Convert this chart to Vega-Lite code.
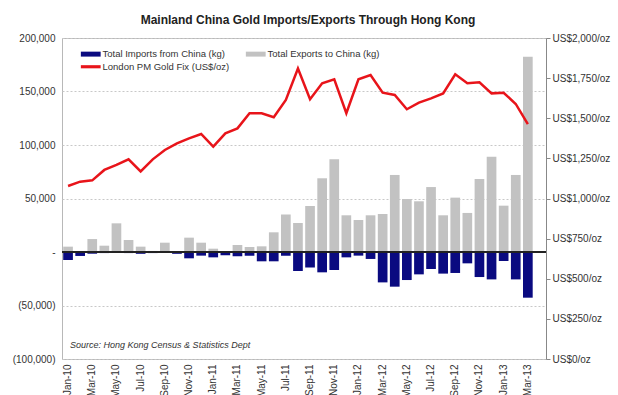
{
  "$schema": "https://vega.github.io/schema/vega-lite/v6.json",
  "width": 484,
  "height": 321,
  "autosize": {"type": "none"},
  "padding": {"left": 62, "top": 38, "right": 72, "bottom": 36},
  "background": "white",
  "title": {"text": "Mainland China Gold Imports/Exports Through Hong Kong", "font": "Liberation Sans", "fontSize": 12, "fontWeight": "bold", "color": "#222222", "anchor": "middle", "offset": 6, "dx": 4},
  "config": {
    "font": "Liberation Sans",
    "view": {"stroke": "#b8b8b8", "strokeWidth": 1}
  },
  "data": {"values": [
    {"month": "Jan-10", "exports": 5000, "imports": -7500, "gold": 1078},
    {"month": "Feb-10", "exports": 0, "imports": -3700, "gold": 1105},
    {"month": "Mar-10", "exports": 12100, "imports": -1600, "gold": 1113},
    {"month": "Apr-10", "exports": 5900, "imports": -1000, "gold": 1178},
    {"month": "May-10", "exports": 26800, "imports": -700, "gold": 1209},
    {"month": "Jun-10", "exports": 11200, "imports": -1000, "gold": 1244},
    {"month": "Jul-10", "exports": 5000, "imports": -1700, "gold": 1169},
    {"month": "Aug-10", "exports": 1000, "imports": -1000, "gold": 1244},
    {"month": "Sep-10", "exports": 8700, "imports": -700, "gold": 1302},
    {"month": "Oct-10", "exports": 500, "imports": -1700, "gold": 1344},
    {"month": "Nov-10", "exports": 13400, "imports": -5900, "gold": 1375},
    {"month": "Dec-10", "exports": 8700, "imports": -3400, "gold": 1402},
    {"month": "Jan-11", "exports": 3100, "imports": -5000, "gold": 1323},
    {"month": "Feb-11", "exports": 1000, "imports": -3100, "gold": 1406},
    {"month": "Mar-11", "exports": 6500, "imports": -4000, "gold": 1437},
    {"month": "Apr-11", "exports": 4700, "imports": -3400, "gold": 1531},
    {"month": "May-11", "exports": 5300, "imports": -8700, "gold": 1531},
    {"month": "Jun-11", "exports": 18400, "imports": -8700, "gold": 1506},
    {"month": "Jul-11", "exports": 35000, "imports": -3600, "gold": 1614},
    {"month": "Aug-11", "exports": 27000, "imports": -17700, "gold": 1810},
    {"month": "Sep-11", "exports": 43000, "imports": -14600, "gold": 1618},
    {"month": "Oct-11", "exports": 68900, "imports": -19000, "gold": 1718},
    {"month": "Nov-11", "exports": 86600, "imports": -16800, "gold": 1743},
    {"month": "Dec-11", "exports": 34300, "imports": -5000, "gold": 1531},
    {"month": "Jan-12", "exports": 29900, "imports": -3400, "gold": 1743},
    {"month": "Feb-12", "exports": 34300, "imports": -6500, "gold": 1769},
    {"month": "Mar-12", "exports": 35500, "imports": -28400, "gold": 1659},
    {"month": "Apr-12", "exports": 72000, "imports": -32400, "gold": 1645},
    {"month": "May-12", "exports": 49500, "imports": -26200, "gold": 1556},
    {"month": "Jun-12", "exports": 47400, "imports": -20900, "gold": 1597},
    {"month": "Jul-12", "exports": 60700, "imports": -15900, "gold": 1624},
    {"month": "Aug-12", "exports": 34300, "imports": -20200, "gold": 1655},
    {"month": "Sep-12", "exports": 50800, "imports": -19600, "gold": 1774},
    {"month": "Oct-12", "exports": 36500, "imports": -10600, "gold": 1718},
    {"month": "Nov-12", "exports": 68200, "imports": -23400, "gold": 1724},
    {"month": "Dec-12", "exports": 89100, "imports": -25600, "gold": 1655},
    {"month": "Jan-13", "exports": 43300, "imports": -8400, "gold": 1659},
    {"month": "Feb-13", "exports": 72000, "imports": -25600, "gold": 1589},
    {"month": "Mar-13", "exports": 182500, "imports": -42700, "gold": 1464}
  ]},
  "encoding": {
    "x": {
      "field": "month", "type": "nominal", "sort": null,
      "scale": {
        "domain": ["Jan-10","Feb-10","Mar-10","Apr-10","May-10","Jun-10","Jul-10","Aug-10","Sep-10","Oct-10","Nov-10","Dec-10","Jan-11","Feb-11","Mar-11","Apr-11","May-11","Jun-11","Jul-11","Aug-11","Sep-11","Oct-11","Nov-11","Dec-11","Jan-12","Feb-12","Mar-12","Apr-12","May-12","Jun-12","Jul-12","Aug-12","Sep-12","Oct-12","Nov-12","Dec-12","Jan-13","Feb-13","Mar-13","Apr-13"],
        "paddingInner": 0.2, "paddingOuter": 0.1
      },
      "axis": {
        "title": null,
        "values": ["Jan-10","Mar-10","May-10","Jul-10","Sep-10","Nov-10","Jan-11","Mar-11","May-11","Jul-11","Sep-11","Nov-11","Jan-12","Mar-12","May-12","Jul-12","Sep-12","Nov-12","Jan-13","Mar-13"],
        "labelAngle": -90, "labelFontSize": 10, "labelColor": "#333333",
        "ticks": false, "domain": false, "labelPadding": 5, "grid": false
      }
    }
  },
  "layer": [
    {
      "layer": [
        {
          "mark": {"type": "bar"},
          "encoding": {
            "y": {
              "field": "exports", "type": "quantitative",
              "scale": {"domain": [-100000, 200000], "nice": false, "zero": false},
              "axis": {
                "title": null, "orient": "left",
                "values": [-100000, -50000, 0, 50000, 100000, 150000, 200000],
                "labelExpr": "datum.value == 0 ? '-\u00a0\u00a0\u00a0\u00a0\u00a0\u00a0' : (datum.value < 0 ? '(' + format(-datum.value, ',') + ')' : format(datum.value, ',') + '\u00a0')",
                "labelFontSize": 10, "labelColor": "#333333", "labelPadding": 7,
                "ticks": false, "domain": false,
                "grid": true, "gridColor": "#c8c8c8", "gridDash": [2, 2], "gridWidth": 1
              }
            },
            "color": {
              "datum": "Total Exports to China (kg)", "type": "nominal",
              "scale": {
                "domain": ["Total Imports from China (kg)", "Total Exports to China (kg)", "London PM Gold Fix (US$/oz)"],
                "range": ["#0a0a80", "#c2c2c2", "#e8141a"]
              },
              "legend": {
                "title": null, "orient": "none", "legendX": 24, "legendY": 11,
                "direction": "horizontal", "columns": 2, "columnPadding": 15, "rowPadding": 2,
                "symbolType": "M-2.2,-0.55H2.2V0.55H-2.2Z", "symbolSize": 81, "symbolStrokeWidth": 0,
                "labelFontSize": 9.5, "labelColor": "#333333", "labelOffset": 7,
                "encode": {"symbols": {"update": {
                  "shape": {"signal": "datum.value == 'London PM Gold Fix (US$/oz)' ? 'M-2.2,-0.35H2.2V0.35H-2.2Z' : 'M-2.2,-0.55H2.2V0.55H-2.2Z'"},
                  "fill": {"scale": "color", "field": "value"},
                  "strokeWidth": {"value": 0}
                }}}
              }
            }
          }
        },
        {
          "mark": {"type": "bar"},
          "encoding": {
            "y": {"field": "imports", "type": "quantitative"},
            "color": {"datum": "Total Imports from China (kg)", "type": "nominal"}
          }
        },
        {
          "mark": {"type": "rule", "color": "#222222", "strokeWidth": 1},
          "encoding": {"y": {"datum": 0, "type": "quantitative"}, "x": {"value": 0}, "x2": {"value": 484}}
        },
        {
          "data": {"values": [{"note": "Source: Hong Kong Census & Statistics Dept"}]},
          "mark": {"type": "text", "align": "left", "baseline": "middle", "dx": 2, "fontStyle": "italic", "fontSize": 9, "color": "#333333"},
          "encoding": {
            "text": {"field": "note"},
            "x": {"datum": "Jan-10"},
            "y": {"datum": -87000, "type": "quantitative"}
          }
        }
      ]
    },
    {
      "mark": {"type": "line", "strokeWidth": 2.5},
      "encoding": {
        "y": {
          "field": "gold", "type": "quantitative",
          "scale": {"domain": [0, 2000], "nice": false},
          "axis": {
            "title": null, "orient": "right",
            "values": [0, 250, 500, 750, 1000, 1250, 1500, 1750, 2000],
            "labelExpr": "'US$' + format(datum.value, ',') + '/oz'",
            "labelFontSize": 10, "labelColor": "#333333", "labelPadding": 2,
            "tickSize": 4, "tickColor": "#888888", "domain": true, "domainColor": "#888888",
            "grid": false
          }
        },
        "color": {"datum": "London PM Gold Fix (US$/oz)", "type": "nominal"}
      }
    }
  ],
  "resolve": {"scale": {"y": "independent"}}
}
